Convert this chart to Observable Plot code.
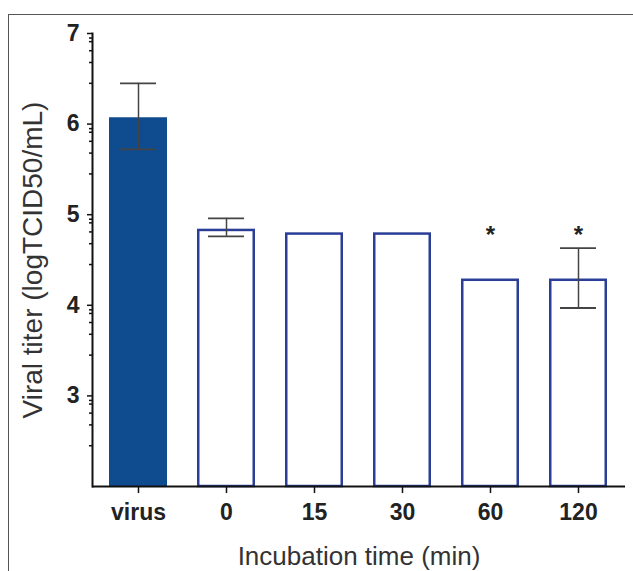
<!DOCTYPE html>
<html>
<head>
<meta charset="utf-8">
<script src="https://cdn.jsdelivr.net/npm/d3@7"></script>
<script src="https://cdn.jsdelivr.net/npm/@observablehq/plot@0.6"></script>
<style>
  html, body { margin: 0; padding: 0; background: #fff; overflow: hidden; }
  #wrap { position: relative; width: 633px; height: 571px; overflow: hidden; }
  #border { position: absolute; left: 8px; top: 14px; width: 700px; height: 700px; border: 1.5px solid #555; box-sizing: border-box; }
  #chart { position: absolute; left: 0; top: 0; }
</style>
</head>
<body>
<div id="wrap"><div id="border"></div><div id="chart"></div></div>
<script>
const groups = ["virus", "0", "15", "30", "60", "120"];
const titer = [6.07, 4.84, 4.80, 4.80, 4.29, 4.29];
const errLow = [5.72, 4.76, null, null, null, 3.97];
const errHigh = [6.45, 4.96, null, null, null, 4.63];
const signif = ["", "", "", "", "*", "*"];
const signifY = 4.77;
const yMin = 2, yMax = 7;
const yTicks = [3, 4, 5, 6, 7];
const minorOffsets = [0.05, 0.09, 0.19, 0.32, 0.55];

const rows = groups.map((g, i) => ({group: g, value: titer[i], lo: errLow[i], hi: errHigh[i], sig: signif[i]}));
const errRows = rows.filter(d => d.lo != null);
const minorTicks = [];
for (let n = 3; n <= 7; n++) for (const o of minorOffsets) if (n - o > yMin) minorTicks.push(n - o);

const font = "Liberation Sans, Arial, Helvetica, sans-serif";
const chart = Plot.plot({
  width: 633,
  height: 571,
  marginLeft: 92,
  marginRight: 8,
  marginTop: 33,
  marginBottom: 85,
  style: {fontFamily: font, color: "#222", background: "transparent"},
  x: {domain: groups, paddingInner: 0.34, paddingOuter: 0.17},
  y: {domain: [yMin, yMax]},
  marks: [
    Plot.barY(rows.filter(d => d.group === "virus"), {x: "group", y1: () => yMin, y2: "value", fill: "#0f4b8f"}),
    Plot.barY(rows.filter(d => d.group !== "virus"), {x: "group", y1: () => yMin, y2: "value", fill: "white", stroke: "#2b3e97", strokeWidth: 2.5,
      insetLeft: 1.25, insetRight: 1.25, insetTop: 1.25, insetBottom: 0}),
    Plot.ruleX(errRows, {x: "group", y1: "lo", y2: "hi", stroke: "#444", strokeWidth: 1.5}),
    Plot.tickY(errRows, {x: "group", y: "lo", stroke: "#444", strokeWidth: 1.8, insetLeft: 11, insetRight: 11}),
    Plot.tickY(errRows, {x: "group", y: "hi", stroke: "#444", strokeWidth: 1.8, insetLeft: 11, insetRight: 11}),
    Plot.text(rows.filter(d => d.sig), {x: "group", y: () => signifY, text: "sig", fontSize: 24, fontWeight: "bold", fill: "#222"}),
    Plot.ruleY([yMin], {stroke: "#111", strokeWidth: 2}),
    Plot.frame({anchor: "left", stroke: "#111", strokeWidth: 2}),
    Plot.axisY(minorTicks, {tickSize: 3, tickFormat: () => "", stroke: "#111", strokeWidth: 1.5, label: null}),
    Plot.axisY(yTicks, {tickSize: 5, tickPadding: 8, tickFormat: d3.format("d"), fontSize: 23, fontWeight: "bold", stroke: "#111", strokeWidth: 1.5,
      label: "Viral titer (logTCID50/mL)", labelAnchor: "center", labelArrow: "none", labelOffset: 70}),
    Plot.axisX({tickSize: 7, tickPadding: 10, fontSize: 23, fontWeight: "bold", stroke: "#111", strokeWidth: 1.5,
      label: "Incubation time (min)", labelAnchor: "center", labelArrow: "none", labelOffset: 78})
  ]
});
chart.querySelectorAll("[aria-label='y-axis label'] text").forEach(t => {
  t.setAttribute("font-size", "28");
  t.setAttribute("font-weight", "normal");
  t.setAttribute("fill", "#333");
});
chart.querySelectorAll("[aria-label='x-axis label'] text").forEach(t => {
  t.setAttribute("font-size", "26");
  t.setAttribute("font-weight", "normal");
  t.setAttribute("fill", "#333");
});
document.getElementById("chart").appendChild(chart);
</script>
</body>
</html>
